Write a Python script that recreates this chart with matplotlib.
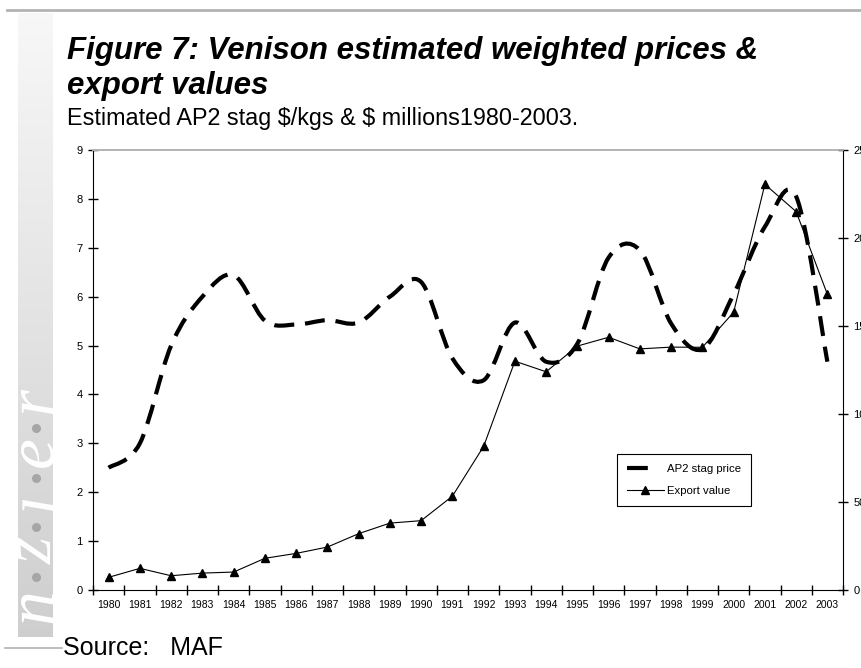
import matplotlib.pyplot as plt
import numpy as np
from matplotlib.path import Path
from matplotlib.patches import PathPatch
from matplotlib.lines import Line2D

plt.rcParams['font.family'] = ['Liberation Sans', 'DejaVu Sans']

# datos
anios = [str(a) for a in range(1980, 2004)]
precio_ap2 = [2.5, 3.0, 5.0, 6.0, 6.44, 5.51, 5.43, 5.52, 5.47, 6.0, 6.3, 4.74,
              4.29, 5.47, 4.67, 5.04, 6.8, 6.95, 5.45, 4.93, 6.05, 7.43, 8.05, 4.67]
valor_export = [7.2, 12.3, 8.1, 9.6, 10.2, 18, 20.8, 24.4, 32, 38, 39.4, 53.3,
                81.6, 130, 124, 138.6, 143.6, 137, 138, 137.9, 157.8, 230.5, 215, 168]
ticks_izq = list(range(0, 10))
ticks_der = [0, 50, 100, 150, 200, 250]

W, H = 862, 668
fig = plt.figure(figsize=(W / 100, H / 100), dpi=100)

# franja lateral "nzier"
axb = fig.add_axes([18 / W, 1 - 637 / H, 35 / W, 624 / H])
g = np.linspace(0.97, 0.81, 200)[:, None]
axb.imshow(np.dstack([g, g, g]), aspect='auto', extent=[0, 1, 637, 13])
axb.set_xlim(0, 1)
axb.set_ylim(637, 13)
axb.axis('off')
for letra, yy in zip('nzier', [606, 550, 501, 452, 400]):
    axb.text(0.5, yy, letra, rotation=90, ha='center', va='center', color='white',
             family='Liberation Serif', style='italic', fontsize=50)
axb.plot([0.5] * 4, [577, 527, 478, 428], 'o', color='#a6a6a6', ms=6.5, mec='none')

# lineas grises
fig.add_artist(Line2D([7 / W, 1], [1 - 10 / H] * 2, color='#b3b3b3', lw=2))
fig.add_artist(Line2D([5 / W, 62 / W], [1 - 648 / H] * 2, color='#b3b3b3', lw=1.2))

# textos
fig.text(67 / W, 1 - 51 / H, 'Figure 7: Venison estimated weighted prices &',
         fontsize=22.5, weight='bold', style='italic', va='center')
fig.text(67 / W, 1 - 86 / H, 'export values',
         fontsize=22.5, weight='bold', style='italic', va='center')
fig.text(67 / W, 1 - 118 / H, r'Estimated AP2 stag \$/kgs & \$ millions1980-2003.',
         fontsize=16.8, va='center')
fig.text(63 / W, 1 - 648 / H, 'Source:   MAF', fontsize=18, va='center')

# grafico principal
ax = fig.add_axes([93 / W, 1 - 590 / H, 750 / W, 440 / H])
ax2 = ax.twinx()

x = np.arange(len(precio_ap2))
y = np.array(precio_ap2, dtype=float)
n = len(x)
verts = [(x[0], y[0])]
codes = [Path.MOVETO]
for i in range(n - 1):
    a = max(i - 1, 0)
    b = min(i + 2, n - 1)
    c1 = (x[i] + (x[i + 1] - x[a]) / 6, y[i] + (y[i + 1] - y[a]) / 6)
    c2 = (x[i + 1] - (x[b] - x[i]) / 6, y[i + 1] - (y[b] - y[i]) / 6)
    verts += [c1, c2, (x[i + 1], y[i + 1])]
    codes += [Path.CURVE4] * 3
curva = PathPatch(Path(verts, codes), fill=False, edgecolor='black', lw=3,
                  linestyle=(0, (4.8, 2.6)), capstyle='butt')
ax.add_patch(curva)

ax2.plot(x, valor_export, color='black', lw=0.8, marker='^', ms=6)

ax.set_xlim(-0.5, 23.5)
ax.set_ylim(0, 9)
ax2.set_ylim(0, 250)
ax.set_yticks(ticks_izq)
ax2.set_yticks(ticks_der)
ax.set_xticks(x)
ax.set_xticklabels(anios)
ax.set_xticks(np.arange(-0.5, 24, 1), minor=True)
ax.tick_params(axis='x', which='major', length=0, labelsize=7.5, pad=7)
ax.tick_params(axis='x', which='minor', length=7, width=1, direction='inout')
ax.tick_params(axis='y', length=7, width=1, direction='inout', labelsize=8, pad=4)
ax2.tick_params(axis='y', length=7, width=1, direction='inout', labelsize=8, pad=4)

for a in (ax, ax2):
    a.spines['top'].set_color('#b3b3b3')
    a.spines['top'].set_linewidth(1.2)
ax2.spines['left'].set_visible(False)
ax2.spines['bottom'].set_visible(False)
ax.spines['right'].set_visible(False)

manejadores = [Line2D([], [], color='black', lw=3, linestyle=(0, (5, 10)), solid_capstyle='butt'),
               Line2D([], [], color='black', lw=0.8, marker='^', ms=6)]
leg = ax2.legend(manejadores, ['AP2 stag price', 'Export value'], loc='upper left',
                 bbox_to_anchor=(617 / W, 1 - 454 / H), bbox_transform=fig.transFigure,
                 fontsize=8.2, frameon=True, fancybox=False, framealpha=1,
                 edgecolor='black', borderpad=0.9, handlelength=3.2,
                 handletextpad=0.3, labelspacing=1.0, borderaxespad=0)
leg.get_frame().set_linewidth(0.8)

fig.savefig('out.png', dpi=100)
